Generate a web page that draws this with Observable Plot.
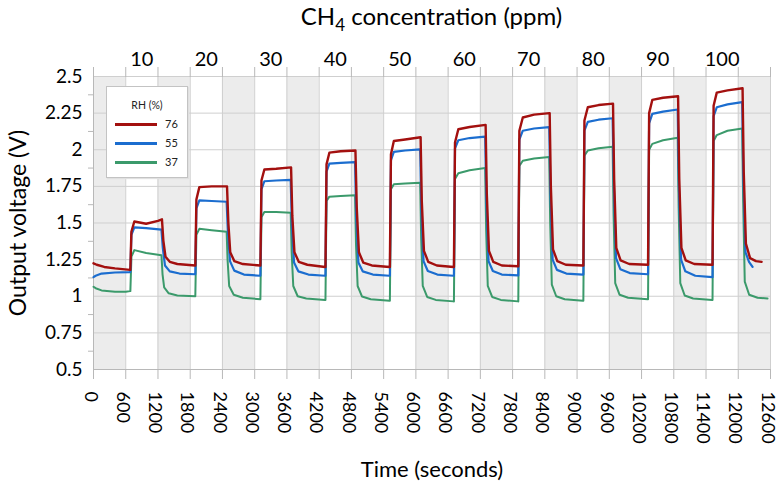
<!DOCTYPE html>
<html><head><meta charset="utf-8">
<script src="https://cdn.jsdelivr.net/npm/d3@7"></script>
<script src="https://cdn.jsdelivr.net/npm/@observablehq/plot@0.6"></script>
<style>
body{margin:0;background:#fff;font-family:Lato,"Open Sans",sans-serif;}
#wrap{position:relative;width:781px;height:486px;}
#topTitle{position:absolute;left:93px;width:677px;top:1px;text-align:center;font-size:24px;color:#000;white-space:nowrap;}
#topTitle sub{font-size:17px;vertical-align:baseline;position:relative;top:6px;}
#legend{position:absolute;left:106px;top:86px;width:80px;height:90px;border:1px solid #c3c3c3;background:#fff;box-shadow:1px 1px 1px #e0e0e0;font-size:10.5px;color:#222;}
#legend .ttl{position:absolute;left:0;width:80px;top:12px;text-align:center;}
#legend .sw{position:absolute;left:8px;width:42px;height:3px;}
#legend .lb{position:absolute;left:58px;font-size:11px;}
</style></head><body><div id="wrap"><div id="topTitle">CH<sub>4</sub> concentration (ppm)</div></div>
<script>
// ---- tick labels / categories ----
const xTicks = [0,600,1200,1800,2400,3000,3600,4200,4800,5400,6000,6600,7200,7800,8400,9000,9600,10200,10800,11400,12000,12600];
const yTicks = [0.5,0.75,1,1.25,1.5,1.75,2,2.25,2.5];
const yMinorTicks = [0.625,0.875,1.125,1.375,1.625,1.875,2.125,2.375];
const concLabels = [10,20,30,40,50,60,70,80,90,100];
const concTimes = [900,2100,3300,4500,5700,6900,8100,9300,10500,11700];
const bandStarts = [0,1200,2400,3600,4800,6000,7200,8400,9600,10800,12000];
const bandEnds   = [600,1800,3000,4200,5400,6600,7800,9000,10200,11400,12600];
const seriesNames = ["76","55","37"];
const seriesColors = ["#a3100f","#1b6dcf","#3b9a6b"];

// ---- series values [time (s), voltage (V)] ----
const rh76 = [[0,1.225],[60,1.215],[200,1.20],[400,1.19],[680,1.18],
 [686,1.18],[705,1.44],[760,1.51],[980,1.495],[1200,1.515],[1274,1.525],[1300,1.38],[1340,1.27],[1420,1.235],[1560,1.22],[1890,1.21],
 [1895,1.21],[1915,1.66],[1970,1.745],[2200,1.75],[2485,1.75],[2510,1.5],[2545,1.3],[2620,1.24],[2780,1.22],[3100,1.21],
 [3106,1.21],[3126,1.79],[3180,1.865],[3400,1.87],[3677,1.88],[3700,1.55],[3740,1.3],[3820,1.235],[3980,1.215],[4310,1.20],
 [4317,1.20],[4337,1.9],[4390,1.98],[4600,1.99],[4875,1.995],[4900,1.6],[4940,1.3],[5020,1.23],[5180,1.21],[5510,1.20],
 [5516,1.20],[5536,1.97],[5590,2.06],[5800,2.07],[6088,2.085],[6110,1.65],[6150,1.31],[6230,1.235],[6390,1.21],[6700,1.20],
 [6708,1.20],[6728,2.05],[6790,2.14],[7000,2.155],[7298,2.17],[7320,1.7],[7360,1.31],[7440,1.235],[7600,1.21],[7900,1.205],
 [7906,1.205],[7926,2.13],[7990,2.22],[8200,2.24],[8490,2.25],[8512,1.75],[8552,1.32],[8632,1.24],[8790,1.215],[9110,1.21],
 [9117,1.21],[9137,2.2],[9200,2.29],[9400,2.305],[9669,2.315],[9690,1.8],[9730,1.33],[9810,1.245],[9970,1.22],[10315,1.215],
 [10321,1.215],[10341,2.25],[10400,2.34],[10600,2.355],[10880,2.365],[10902,1.8],[10942,1.33],[11022,1.245],[11180,1.22],[11515,1.215],
 [11521,1.215],[11541,2.3],[11600,2.39],[11800,2.405],[12080,2.42],[12102,1.85],[12142,1.36],[12220,1.26],[12330,1.24],[12434,1.235]];

const rh55 = [[0,1.13],[40,1.14],[150,1.155],[400,1.162],[680,1.165],
 [686,1.165],[706,1.42],[760,1.47],[980,1.465],[1265,1.455],[1290,1.33],[1330,1.21],[1420,1.17],[1600,1.155],[1890,1.15],
 [1895,1.15],[1915,1.6],[1970,1.655],[2200,1.65],[2478,1.645],[2500,1.45],[2540,1.24],[2620,1.175],[2800,1.148],[3100,1.14],
 [3106,1.14],[3126,1.73],[3180,1.785],[3400,1.79],[3670,1.795],[3692,1.5],[3732,1.23],[3812,1.17],[4000,1.148],[4310,1.14],
 [4317,1.14],[4337,1.85],[4390,1.905],[4600,1.91],[4868,1.915],[4890,1.55],[4930,1.23],[5010,1.17],[5200,1.148],[5510,1.14],
 [5516,1.14],[5536,1.93],[5590,1.985],[5800,1.995],[6080,2.003],[6102,1.6],[6142,1.24],[6222,1.172],[6400,1.148],[6700,1.14],
 [6708,1.14],[6728,2.01],[6790,2.065],[7000,2.08],[7290,2.09],[7312,1.65],[7352,1.24],[7432,1.172],[7600,1.148],[7900,1.142],
 [7906,1.142],[7926,2.07],[7990,2.13],[8200,2.145],[8482,2.155],[8505,1.7],[8545,1.25],[8625,1.18],[8800,1.155],[9110,1.148],
 [9117,1.148],[9137,2.13],[9200,2.19],[9400,2.205],[9662,2.215],[9685,1.75],[9725,1.26],[9805,1.185],[9980,1.158],[10315,1.15],
 [10321,1.15],[10341,2.18],[10400,2.245],[10600,2.26],[10873,2.275],[10895,1.75],[10935,1.25],[11015,1.17],[11200,1.14],[11515,1.13],
 [11521,1.13],[11541,2.23],[11600,2.29],[11800,2.31],[12073,2.325],[12095,1.8],[12135,1.3],[12200,1.235],[12266,1.2]];

const rh37 = [[0,1.065],[40,1.055],[150,1.04],[400,1.03],[600,1.03],[680,1.035],
 [686,1.035],[706,1.27],[760,1.315],[980,1.295],[1265,1.28],[1285,1.15],[1315,1.06],[1400,1.02],[1560,1.005],[1890,1.0],
 [1895,1.0],[1915,1.42],[1970,1.46],[2200,1.45],[2478,1.44],[2495,1.25],[2525,1.07],[2610,1.01],[2780,0.99],[3100,0.98],
 [3106,0.98],[3126,1.54],[3180,1.575],[3400,1.575],[3670,1.57],[3688,1.3],[3718,1.07],[3800,1.0],[3960,0.985],[4310,0.975],
 [4317,0.975],[4337,1.65],[4390,1.68],[4600,1.685],[4868,1.69],[4886,1.35],[4916,1.07],[4998,0.998],[5160,0.98],[5510,0.97],
 [5516,0.97],[5536,1.73],[5590,1.765],[5800,1.77],[6080,1.775],[6098,1.4],[6128,1.07],[6210,0.995],[6370,0.975],[6700,0.965],
 [6708,0.965],[6728,1.8],[6790,1.84],[7000,1.86],[7290,1.875],[7308,1.45],[7338,1.07],[7420,0.995],[7580,0.975],[7900,0.965],
 [7906,0.965],[7926,1.89],[7990,1.925],[8200,1.94],[8482,1.95],[8500,1.5],[8530,1.08],[8612,1.0],[8770,0.98],[9110,0.97],
 [9117,0.97],[9137,1.96],[9200,1.995],[9400,2.01],[9662,2.02],[9680,1.55],[9710,1.09],[9792,1.01],[9950,0.99],[10315,0.98],
 [10321,0.98],[10341,2.0],[10400,2.04],[10600,2.065],[10873,2.082],[10891,1.6],[10921,1.09],[11003,1.005],[11160,0.985],[11515,0.975],
 [11521,0.975],[11541,2.06],[11600,2.1],[11800,2.13],[12073,2.145],[12091,1.65],[12121,1.1],[12203,1.01],[12360,0.99],[12545,0.985]];

const seriesData = {"76": rh76, "55": rh55, "37": rh37};
const bands = bandStarts.map((s, i) => ({x1: s, x2: bandEnds[i]}));
const rows = [];
for (const name of ["37","55","76"]) for (const [t, v] of seriesData[name]) rows.push({series: name, t, v});

const chart = Plot.plot({
  width: 781, height: 486,
  marginLeft: 93, marginRight: 11, marginTop: 76, marginBottom: 117,
  style: {fontFamily: "Lato, 'Open Sans', sans-serif", fontSize: "19px", color: "#000", background: "#fff", overflow: "visible"},
  x: {domain: [0, 12600]},
  y: {domain: [0.5, 2.5]},
  color: {domain: seriesNames, range: seriesColors},
  marks: [
    Plot.rect(bands, {x1: "x1", x2: "x2", fill: "#ececec"}),
    Plot.gridX(xTicks, {stroke: "#cfcfcf", strokeOpacity: 1}),
    Plot.gridY(yTicks, {stroke: "#cfcfcf", strokeOpacity: 1}),
    Plot.ruleX([0], {stroke: "#b8b8b8"}),
    Plot.ruleY([0.5], {stroke: "#b8b8b8"}),
    Plot.axisX(xTicks, {anchor: "bottom", tickSize: 10, tickPadding: 12, tickRotate: 90, stroke: "#b8b8b8", fill: "#000",
      tickFormat: d => String(d), label: "Time (seconds)", labelAnchor: "center", labelArrow: "none", labelOffset: 107, fontSize: 18}),
    Plot.axisX(xTicks, {anchor: "top", tickSize: 10, stroke: "#b8b8b8", tickFormat: () => "", label: null}),
    Plot.axisX(concTimes, {anchor: "top", tickSize: 0, tickPadding: 11, fill: "#000", fontSize: 20, tickFormat: (d, i) => String(concLabels[i]), label: null}),
    Plot.axisY(yTicks, {anchor: "left", tickSize: 0, tickPadding: 11, fill: "#000", fontSize: 19, tickFormat: d => String(d),
      label: "Output voltage (V)", labelAnchor: "center", labelArrow: "none", labelOffset: 84}),
    Plot.axisY(yMinorTicks, {anchor: "left", tickSize: 5, stroke: "#b8b8b8", tickFormat: () => "", label: null}),
    Plot.line(rows.filter(d => d.series === "37"), {x: "t", y: "v", stroke: "series", strokeWidth: 2}),
    Plot.line(rows.filter(d => d.series === "55"), {x: "t", y: "v", stroke: "series", strokeWidth: 2.2}),
    Plot.line(rows.filter(d => d.series === "76"), {x: "t", y: "v", stroke: "series", strokeWidth: 2.4})
  ]
});
const wrap = document.getElementById("wrap");
wrap.insertBefore(chart, wrap.firstChild);
// axis-title font sizes
chart.querySelectorAll("g[aria-label='x-axis label'] text").forEach(t => t.setAttribute("font-size", "22"));
chart.querySelectorAll("g[aria-label='y-axis label'] text").forEach(t => t.setAttribute("font-size", "23"));
// nudge the rotated bottom tick labels slightly left, as in the reference
const bottomLabels = chart.querySelector("g[aria-label='x-axis tick label']");
if (bottomLabels) bottomLabels.setAttribute("transform", "translate(-3,0) " + (bottomLabels.getAttribute("transform") || ""));

// legend
const legend = document.createElement("div");
legend.id = "legend";
legend.innerHTML = '<div class="ttl">RH (%)</div>';
const rowTops = [36, 55, 74];
seriesNames.forEach((name, i) => {
  const sw = document.createElement("div");
  sw.className = "sw"; sw.style.top = rowTops[i] + "px"; sw.style.background = seriesColors[i];
  const lb = document.createElement("div");
  lb.className = "lb"; lb.style.top = (rowTops[i] - 6) + "px"; lb.textContent = name;
  legend.appendChild(sw); legend.appendChild(lb);
});
wrap.appendChild(legend);
</script></body></html>
